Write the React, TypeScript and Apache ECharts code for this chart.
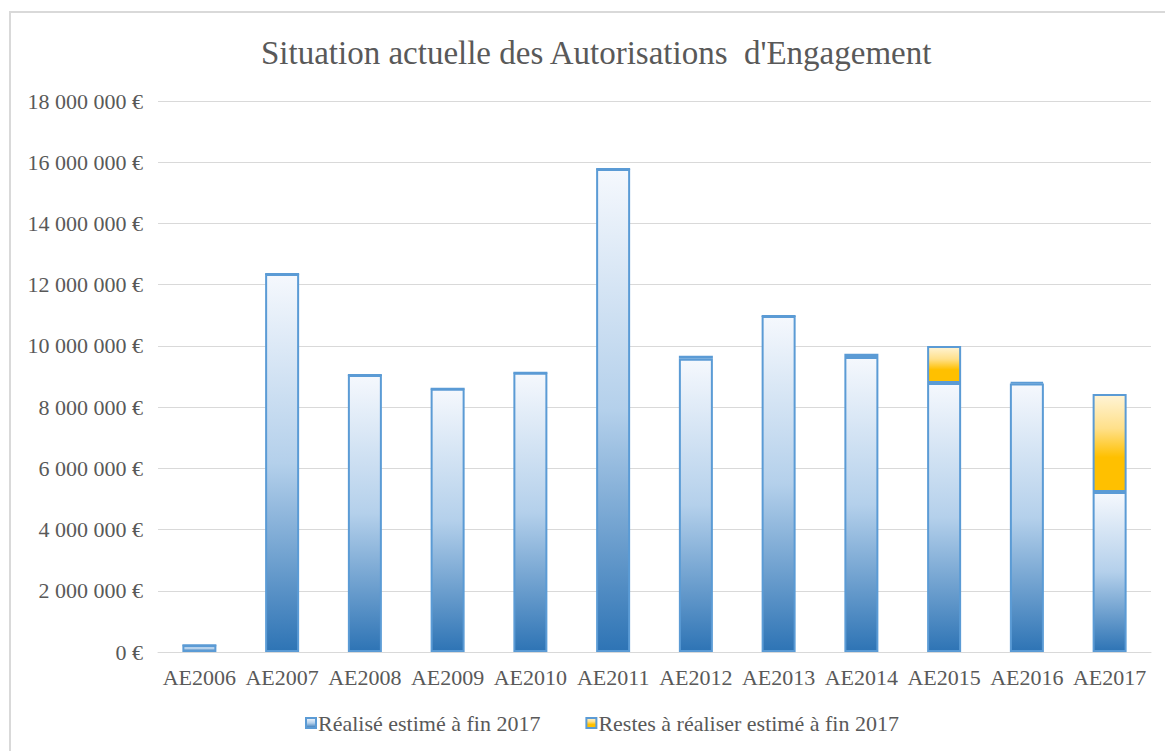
import React, { useEffect, useRef } from "react";
import * as echarts from "echarts";

const categories = ["AE2006", "AE2007", "AE2008", "AE2009", "AE2010", "AE2011", "AE2012", "AE2013", "AE2014", "AE2015", "AE2016", "AE2017"];
const realise = [220000, 12350000, 9050000, 8600000, 9120000, 15780000, 9580000, 10980000, 9640000, 8790000, 8770000, 5230000];
const restes = [0, 0, 0, 0, 0, 0, 100000, 0, 100000, 1210000, 50000, 3200000];
const seriesNames = ["Réalisé estimé à fin 2017", "Restes à réaliser estimé à fin 2017"];

const FONT = "'Liberation Serif', 'Times New Roman', serif";

const fmt = (v: number) => {
  const s = Math.round(v).toString().replace(/\B(?=(\d{3})+(?!\d))/g, " ");
  return s + " €";
};

const blueGrad = new echarts.graphic.LinearGradient(0, 0, 0, 1, [
  { offset: 0, color: "#f5f8fd" },
  { offset: 0.5, color: "#b4d0eb" },
  { offset: 1, color: "#2e74b5" },
]);
const yellowGrad = new echarts.graphic.LinearGradient(0, 0, 0, 1, [
  { offset: 0, color: "#fff4d6" },
  { offset: 0.35, color: "#ffe08a" },
  { offset: 0.65, color: "#ffc000" },
  { offset: 1, color: "#ffc000" },
]);

export default function App() {
  const ref = useRef<HTMLDivElement>(null);
  useEffect(() => {
    if (!ref.current) return;
    const chart = echarts.init(ref.current, undefined, { renderer: "svg" });
    chart.setOption({
      animation: false,
      backgroundColor: "#ffffff",
      textStyle: { fontFamily: FONT },
      graphic: [
        {
          type: "rect",
          shape: { x: 10, y: 12, width: 1170, height: 760 },
          style: { fill: "none", stroke: "#d9d9d9", lineWidth: 2 },
          silent: true,
        },
      ],
      title: {
        text: "Situation actuelle des Autorisations  d'Engagement",
        left: 256,
        top: 31,
        textStyle: { fontFamily: FONT, fontSize: 33, fontWeight: "normal", color: "#595959" },
      },
      legend: {
        top: 707,
        left: 300,
        itemGap: 45,
        itemWidth: 10,
        itemHeight: 10,
        icon: "rect",
        textStyle: { fontFamily: FONT, fontSize: 22, color: "#595959", padding: [0, 0, 0, -3] },
        data: seriesNames,
      },
      grid: { left: 158, right: 14, top: 101, bottom: 99 },
      xAxis: {
        type: "category",
        data: categories,
        axisLine: { lineStyle: { color: "#d9d9d9", width: 1 } },
        axisTick: { show: false },
        axisLabel: { fontFamily: FONT, fontSize: 22, color: "#595959", margin: 14, interval: 0 },
      },
      yAxis: {
        type: "value",
        min: 0,
        max: 18000000,
        interval: 2000000,
        axisLine: { show: false },
        axisTick: { show: false },
        splitLine: { lineStyle: { color: "#d9d9d9" } },
        axisLabel: { fontFamily: FONT, fontSize: 22, color: "#595959", margin: 15, formatter: fmt },
      },
      series: [
        {
          name: seriesNames[0],
          type: "bar",
          stack: "ae",
          barWidth: 34,
          data: realise,
          itemStyle: { color: blueGrad, borderColor: "#5b9bd5", borderWidth: 2 },
        },
        {
          name: seriesNames[1],
          type: "bar",
          stack: "ae",
          barWidth: 34,
          data: restes,
          itemStyle: { color: yellowGrad, borderColor: "#5b9bd5", borderWidth: 2 },
        },
      ],
    });
    return () => chart.dispose();
  }, []);
  return <div ref={ref} style={{ position: "fixed", left: 0, top: 0, width: 1165, height: 751 }} />;
}
